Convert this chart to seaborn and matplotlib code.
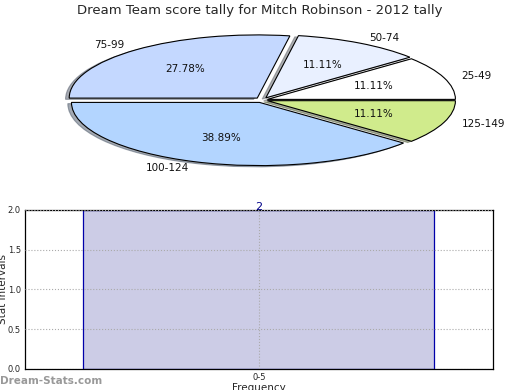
import matplotlib
matplotlib.use("Agg")
import matplotlib.pyplot as plt
import seaborn as sns
import pandas as pd

# ---- data ----
pie_labels = ["25-49", "50-74", "75-99", "100-124", "125-149"]
pie_counts = [2, 2, 5, 7, 2]
pie_colors = ["#ffffff", "#e9f0ff", "#c4d8ff", "#b3d5ff", "#d0eb8c"]

bar_categories = ["0-5"]
bar_values = [2]
y_ticks = [0.0, 0.5, 1.0, 1.5, 2.0]

title = "Dream Team score tally for Mitch Robinson - 2012 tally"

sns.set_style("white")
plt.rcParams["font.family"] = ["DejaVu Sans"]

fig = plt.figure(figsize=(5.2, 3.9), dpi=100)

# ---- pie ----
axp = fig.add_axes([0.052, 0.541, 0.904, 0.405])
wedges, texts, autotexts = axp.pie(
    pie_counts, labels=pie_labels, colors=pie_colors, autopct="%.2f%%",
    startangle=0, counterclock=True, explode=[0.03, 0.04, 0.04, 0.04, 0.03],
    shadow=dict(ox=-0.014, oy=-0.014, shade=0.6),
    labeldistance=1.1, pctdistance=0.6,
    wedgeprops=dict(edgecolor="black", linewidth=0.8),
    textprops=dict(fontsize=7.5, color="#111111"))
axp.set_aspect("auto")
axp.set_xlim(-1.25, 1.25)
axp.set_ylim(-1.25, 1.25)
fig.text(0.5, 0.972, title, ha="center", va="center", fontsize=9.5)

# ---- bar ----
axb = fig.add_axes([0.048, 0.054, 0.9, 0.408])
df = pd.DataFrame({"cat": bar_categories, "val": bar_values})
sns.barplot(data=df, x="cat", y="val", ax=axb, color="#ccccE6",
            edgecolor="#0000aa", linewidth=0.9, width=0.75, saturation=1)
axb.set_xlim(-0.5, 0.5)
axb.set_ylim(0, 2.0)
axb.set_yticks(y_ticks)
axb.set_yticklabels([f"{v:.1f}" for v in y_ticks])
axb.tick_params(axis="both", labelsize=6, length=2, pad=1)
axb.grid(True, linestyle=":", color="#aaaaaa", linewidth=0.8)
axb.set_axisbelow(False)
for s in axb.spines.values():
    s.set_color("black")
    s.set_linewidth(0.9)
axb.set_ylabel("Stat Intervals", fontsize=7.5, labelpad=0)
axb.set_xlabel("Frequency", fontsize=7.5, labelpad=1)
for i, v in enumerate(bar_values):
    axb.text(i, v + 0.04, f"{v}", ha="center", va="center", color="#000088", fontsize=8)

fig.text(0.0, 0.022, "Dream-Stats.com", color="#999999", fontsize=7.5,
         fontweight="bold", ha="left", va="center")

fig.savefig("out.png", dpi=100)
